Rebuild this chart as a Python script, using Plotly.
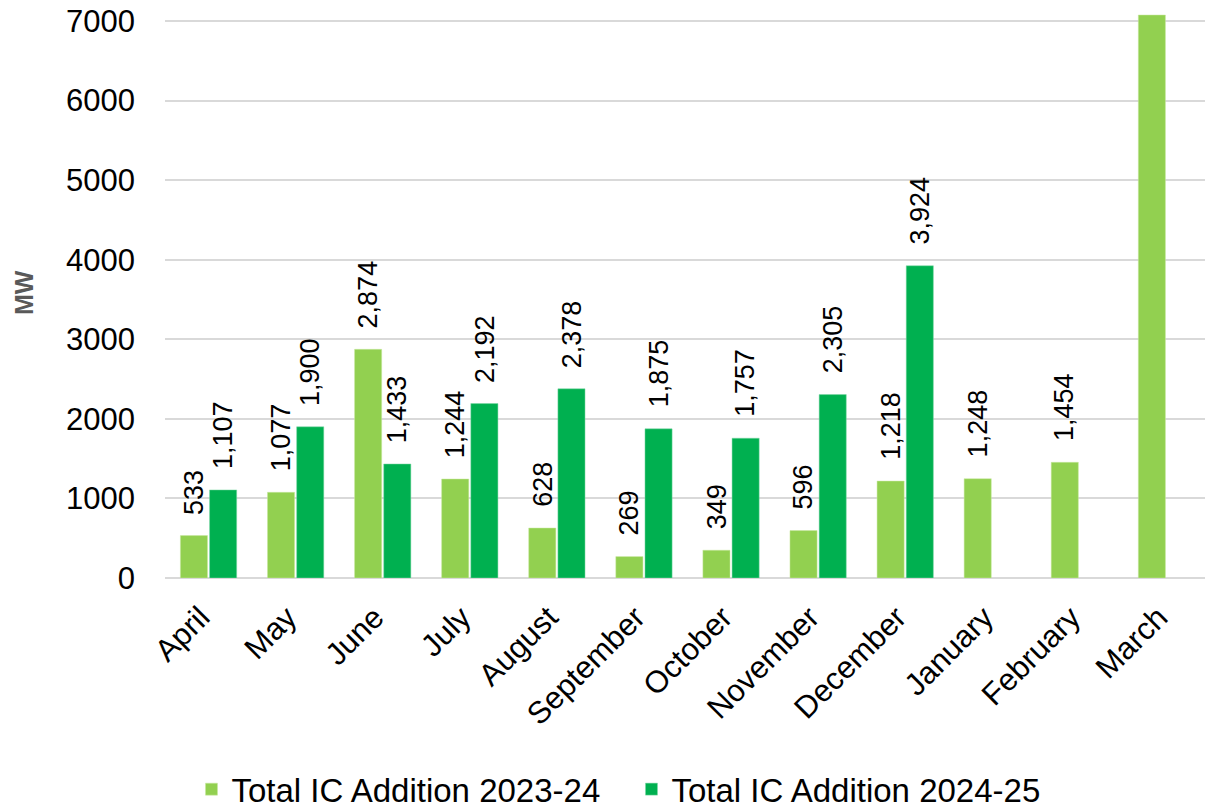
import plotly.graph_objects as go

# Monthly installed capacity additions (MW)
months = ['April', 'May', 'June', 'July', 'August', 'September', 'October',
          'November', 'December', 'January', 'February', 'March']
ic_2023_24 = [533, 1077, 2874, 1244, 628, 269, 349, 596, 1218, 1248, 1454, 7075]
ic_2024_25 = [1107, 1900, 1433, 2192, 2378, 1875, 1757, 2305, 3924, None, None, None]

font = "Liberation Sans, Arial, sans-serif"

fig = go.Figure()
fig.add_trace(go.Bar(
    x=months, y=ic_2023_24, name='Total IC Addition 2023-24',
    marker=dict(color='#92D050', line=dict(color='#C8E8A0', width=0.5)),
))
fig.add_trace(go.Bar(
    x=months, y=ic_2024_25, name='Total IC Addition 2024-25',
    marker=dict(color='#00B050', line=dict(color='#80D8A8', width=0.5)),
))

# value labels above bars (March 2023-24 is unlabelled in the original)
for series, shift in ((ic_2023_24, -14.6), (ic_2024_25, 14.6)):
    for m, v in zip(months, series):
        if v is None or (m == 'March' and series is ic_2023_24):
            continue
        fig.add_annotation(
            x=m, y=v, text='{:,}'.format(v), showarrow=False,
            textangle=-90, xanchor='center', yanchor='bottom',
            xshift=shift, yshift=19,
            font=dict(size=27, color='black', family=font),
        )

# axis title placed by hand, further out than plotly's title standoff allows
fig.add_annotation(
    x=0, y=0.5, xref='paper', yref='paper', xshift=-141,
    text='<b>MW</b>', textangle=-90, showarrow=False,
    xanchor='center', yanchor='middle',
    font=dict(size=25, color='#595959', family=font),
)

fig.update_layout(
    width=1213, height=807,
    margin=dict(l=157, r=11, t=0, b=237),
    plot_bgcolor='white', paper_bgcolor='white',
    barmode='group', bargap=0.33, bargroupgap=0.07,
    font=dict(family=font, color='black'),
    xaxis=dict(
        tickangle=-45, tickfont=dict(size=31, color='black'),
        showgrid=False, showline=False, ticks='', automargin=False,
        ticklabelstandoff=14, ticklabelshift=-8,
    ),
    yaxis=dict(
        range=[0, 7163], tickvals=[0, 1000, 2000, 3000, 4000, 5000, 6000, 7000],
        tickformat='d', tickfont=dict(size=31, color='black'),
        showgrid=True, gridcolor='#D9D9D9', gridwidth=1.5,
        zeroline=True, zerolinecolor='#D9D9D9', zerolinewidth=1.5,
        ticklabelstandoff=29, automargin=False, ticklabeloverflow='allow',
    ),
    legend=dict(
        orientation='h', xref='container', yref='container',
        x=0.514, xanchor='center', y=0.032, yanchor='middle',
        font=dict(size=33, family=font, color='black'),
        itemwidth=30, tracegroupgap=0, entrywidth=395,
    ),
)

fig.write_html("out.html")
